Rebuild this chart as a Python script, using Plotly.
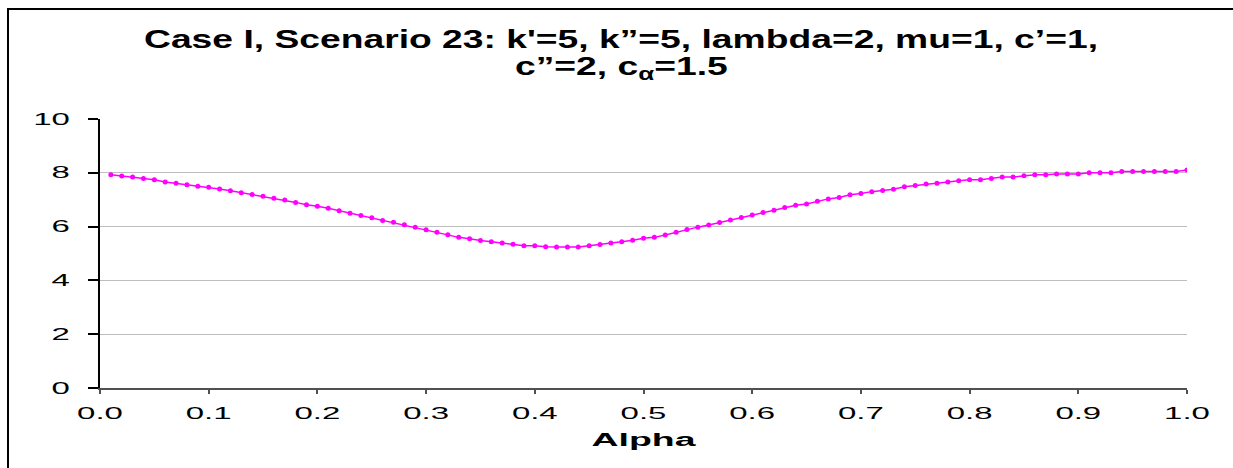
import plotly.graph_objects as go

alpha = [round(0.01 * i, 2) for i in range(1, 101)]
cost = [
    7.93, 7.88, 7.84, 7.79, 7.74, 7.66, 7.61, 7.56, 7.50, 7.46,
    7.40, 7.33, 7.26, 7.19, 7.13, 7.05, 6.99, 6.90, 6.81, 6.76,
    6.68, 6.59, 6.50, 6.41, 6.33, 6.23, 6.16, 6.07, 5.98, 5.88,
    5.79, 5.70, 5.60, 5.55, 5.48, 5.44, 5.39, 5.34, 5.29, 5.29,
    5.25, 5.24, 5.24, 5.24, 5.29, 5.33, 5.39, 5.44, 5.49, 5.57,
    5.60, 5.69, 5.79, 5.89, 5.98, 6.06, 6.15, 6.25, 6.34, 6.43,
    6.52, 6.61, 6.71, 6.79, 6.84, 6.94, 7.03, 7.08, 7.18, 7.23,
    7.30, 7.34, 7.39, 7.48, 7.53, 7.58, 7.61, 7.66, 7.70, 7.74,
    7.74, 7.79, 7.84, 7.84, 7.89, 7.93, 7.93, 7.96, 7.96, 7.96,
    8.00, 8.00, 8.00, 8.05, 8.05, 8.05, 8.05, 8.05, 8.05, 8.10,
]
x_ticks = [0.0, 0.1, 0.2, 0.3, 0.4, 0.5, 0.6, 0.7, 0.8, 0.9, 1.0]
x_tick_labels = ["0.0", "0.1", "0.2", "0.3", "0.4", "0.5", "0.6", "0.7", "0.8", "0.9", "1.0"]
y_ticks = [0, 2, 4, 6, 8, 10]

title_line1 = "Case I, Scenario 23: k'=5, k\u201d=5, lambda=2, mu=1, c\u2019=1,"
title_line2 = "c\u201d=2, c<sub>\u03b1</sub>=1.5"
x_title = "Alpha"

W, H = 1233, 468
L, R, T, B = 100, 46, 119, 80
pw = W - L - R
ph = H - T - B
FONT = "Liberation Sans, Arial, sans-serif"

fig = go.Figure()
fig.add_trace(go.Scatter(
    x=alpha, y=cost, mode="lines+markers",
    line=dict(color="#FF00FF", width=1.5),
    marker=dict(color="#FF00FF", size=5, symbol="circle"),
    showlegend=False,
))

# outer chart frame (cropped at right and bottom in the reference)
fig.add_shape(type="rect", xref="paper", yref="paper",
              x0=(8 - L) / pw, x1=(W + 10 - L) / pw,
              y0=(H - B - (H + 10)) / ph, y1=(H - B - 9) / ph,
              line=dict(color="black", width=2), layer="above")

fig.add_annotation(text="<b>" + title_line2 + "</b>", xref="paper", yref="paper",
                   x=(621 - L) / pw, y=(H - B - 68) / ph, xanchor="center", yanchor="middle",
                   showarrow=False, font=dict(size=25, family=FONT, color="black"))

fig.update_layout(
    width=W, height=H,
    margin=dict(l=L, r=R, t=T, b=B),
    paper_bgcolor="white", plot_bgcolor="white",
    font=dict(family=FONT, color="black"),
    title=dict(text="<b>" + title_line1 + "</b>", x=621 / W, xanchor="center", xref="container",
               y=1 - 31 / H, yanchor="top", yref="container",
               font=dict(size=25, family=FONT, color="black")),
    xaxis=dict(range=[0, 1], tickvals=x_ticks, ticktext=x_tick_labels,
               showgrid=False, zeroline=False, showline=True, linecolor="#505050", linewidth=2,
               ticks="outside", ticklen=4, tickwidth=2, tickcolor="#505050",
               ticklabelstandoff=6, tickangle=0,
               tickfont=dict(size=16),
               title=dict(text="<b>" + x_title + "</b>", font=dict(size=19), standoff=12)),
    yaxis=dict(range=[0, 10], tickvals=y_ticks,
               showgrid=True, gridcolor="#BEBEBE", gridwidth=1, zeroline=False,
               showline=True, linecolor="black", linewidth=2,
               ticks="outside", ticklen=10, tickwidth=1.5, tickcolor="black",
               ticklabelstandoff=15,
               tickfont=dict(size=16)),
)

# The reference text is rendered horizontally stretched; reproduce that look.
post = """
(function(){
var gd = document.getElementById('{plot_id}');
var specs = [['.gtitle', 1.49], ['.annotation-text', 1.49],
             ['.xtick text', 2.06], ['.ytick text', 2.06], ['.xtitle', 1.97]];
function apply(){
  specs.forEach(function(sp){
    gd.querySelectorAll(sp[0]).forEach(function(t){
      var cur = t.getAttribute('transform') || '';
      var mine = t.getAttribute('data-stretched');
      var base = (mine !== null && cur === mine) ? t.getAttribute('data-base') : cur;
      var x = parseFloat(t.getAttribute('x')) || 0;
      var tf = base + ' translate(' + x + ',0) scale(' + sp[1] + ',1) translate(' + (-x) + ',0)';
      t.setAttribute('data-base', base);
      t.setAttribute('transform', tf);
      t.setAttribute('data-stretched', tf);
    });
  });
}
apply();
if (gd.on) { gd.on('plotly_afterplot', apply); }
setTimeout(apply, 30);
})();
"""

fig.write_html("out.html", post_script=post)
